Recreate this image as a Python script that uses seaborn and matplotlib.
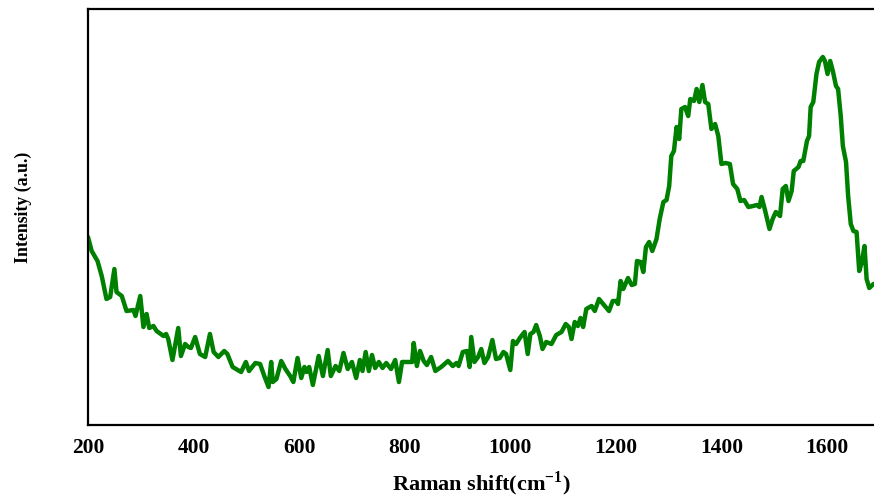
import numpy as np
import pandas as pd
import matplotlib
matplotlib.use('Agg')
import matplotlib.pyplot as plt
import seaborn as sns

# Raman spectrum (intensity in arbitrary units)
shift_cm = [
    200, 207, 218, 226, 235, 242, 250, 254, 264, 273, 286, 290, 299, 305, 311, 316,
    324, 330, 343, 348, 352, 360, 371, 376, 384, 390, 395, 403, 412, 422, 431, 438,
    447, 458, 464, 474, 490, 499, 505, 517, 526, 534, 542, 547, 550, 557, 566, 574,
    583, 589, 597, 604, 610, 614, 619, 626, 637, 645, 654, 660, 669, 676, 684, 692,
    700, 708, 715, 720, 726, 732, 738, 744, 751, 758, 765, 774, 782, 789, 795, 806,
    814, 817, 823, 829, 836, 842, 850, 858, 869, 882, 891, 898, 902, 910, 918, 923,
    926, 932, 939, 945, 951, 958, 966, 973, 980, 987, 992, 1000, 1005, 1011, 1018, 1027,
    1033, 1038, 1044, 1049, 1056, 1061, 1068, 1078, 1087, 1097, 1105, 1111, 1116, 1122, 1128, 1133,
    1138, 1144, 1154, 1160, 1168, 1176, 1187, 1194, 1201, 1204, 1209, 1214, 1223, 1230, 1236, 1240,
    1247, 1252, 1257, 1263, 1269, 1277, 1283, 1290, 1296, 1301, 1305, 1310, 1315, 1320, 1324, 1331,
    1337, 1341, 1348, 1353, 1358, 1364, 1369, 1375, 1381, 1388, 1394, 1400, 1408, 1416, 1422, 1430,
    1436, 1443, 1451, 1460, 1467, 1472, 1476, 1482, 1491, 1497, 1503, 1511, 1516, 1522, 1527, 1533,
    1537, 1546, 1550, 1555, 1562, 1566, 1569, 1574, 1580, 1585, 1592, 1596, 1601, 1606, 1611, 1617,
    1621, 1626, 1630, 1636, 1640, 1645, 1650, 1656, 1661, 1666, 1671, 1675, 1680, 1688,
]
intensity = [
    188, 174, 164, 149, 126, 128, 156, 133, 129, 114, 115, 109, 129, 98, 111, 97,
    99, 94, 89, 91, 86, 65, 97, 69, 81, 78, 77, 88, 71, 68, 91, 73,
    68, 74, 71, 58, 53, 63, 54, 62, 61, 49, 38, 63, 43, 46, 64, 56,
    49, 43, 67, 47, 58, 53, 58, 40, 69, 49, 75, 49, 59, 54, 72, 56,
    63, 47, 65, 54, 73, 54, 70, 57, 63, 57, 62, 56, 65, 43, 63, 63,
    63, 82, 59, 74, 64, 60, 68, 54, 58, 64, 59, 62, 59, 73, 74, 58,
    88, 63, 68, 76, 62, 68, 85, 66, 67, 73, 71, 55, 84, 81, 87, 93,
    71, 91, 93, 100, 89, 76, 83, 81, 90, 93, 101, 98, 86, 103, 99, 107,
    98, 116, 119, 114, 126, 121, 114, 124, 124, 121, 144, 136, 147, 140, 141, 164,
    163, 153, 178, 183, 174, 186, 206, 223, 225, 239, 269, 274, 298, 286, 316, 318,
    309, 326, 324, 336, 323, 340, 323, 321, 296, 301, 289, 261, 262, 261, 241, 236,
    224, 225, 218, 219, 220, 218, 228, 216, 196, 206, 213, 209, 236, 239, 224, 234,
    254, 258, 264, 264, 284, 289, 318, 323, 351, 363, 368, 364, 351, 364, 354, 339,
    336, 309, 279, 263, 229, 201, 194, 193, 154, 163, 179, 146, 137, 141,
]

df = pd.DataFrame({'shift': shift_cm, 'intensity': intensity})

sns.set_style('white')
plt.rcParams['font.family'] = ['Liberation Serif', 'DejaVu Serif']
plt.rcParams['mathtext.fontset'] = 'custom'
plt.rcParams['mathtext.rm'] = 'Liberation Serif'
plt.rcParams['mathtext.bf'] = 'Liberation Serif:bold'
plt.rcParams['text.color'] = 'black'
plt.rcParams['axes.labelcolor'] = 'black'
plt.rcParams['xtick.color'] = 'black'

fig = plt.figure(figsize=(8.74, 5.02), dpi=100)
ax = fig.add_axes([88 / 874, 76 / 502, 1 - 88 / 874, 416 / 502])

sns.lineplot(data=df, x='shift', y='intensity', color='#008000', linewidth=3.2, ax=ax)

ax.set_xlim(200, 1689)
ax.set_ylim(0, 416)
ax.set_xticks([200, 400, 600, 800, 1000, 1200, 1400, 1600])
ax.set_yticks([])
ax.tick_params(axis='x', length=0, pad=9, labelsize=15.5, labelcolor='black')
for lbl in ax.get_xticklabels():
    lbl.set_fontweight('bold')

for side in ['left', 'bottom', 'top']:
    ax.spines[side].set_color('black')
    ax.spines[side].set_linewidth(1.6)
ax.spines['right'].set_visible(False)

ax.set_xlabel('Raman shift(cm$^{\\mathbf{-1}}$)', fontsize=16, fontweight='bold',
              labelpad=8, color='black')
ax.set_ylabel('Intensity (a.u.)', fontsize=12.8, fontweight='bold', color='black')
ax.yaxis.set_label_coords(-0.071, 0.526)

fig.savefig('out.png', dpi=100)
